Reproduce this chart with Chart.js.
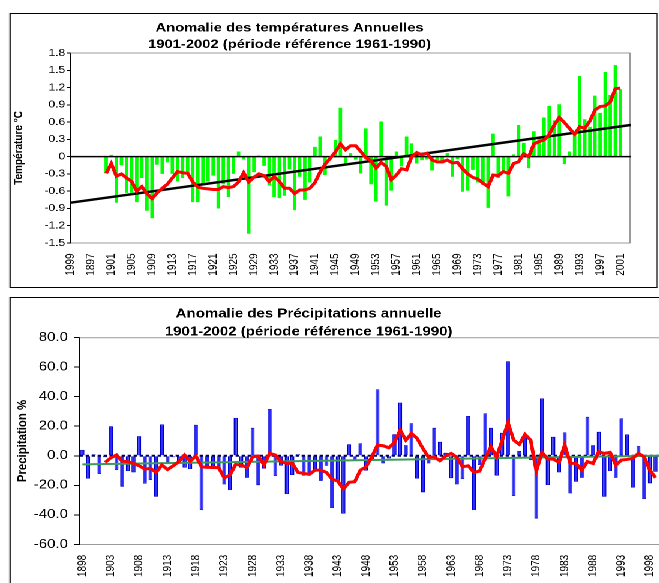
<!DOCTYPE html>
<html>
<head>
<meta charset="utf-8">
<script src="https://cdn.jsdelivr.net/npm/chart.js@4"></script>
<style>
html,body{margin:0;padding:0;background:#fff;overflow:hidden;width:659px;height:583px;}
#stage{position:absolute;left:0;top:0;width:600px;height:583px;transform:scaleX(1.2);transform-origin:0 0;}
.box{position:absolute;border:1.5px solid #000;box-sizing:border-box;}
canvas{position:absolute;}
</style>
</head>
<body>
<div id="stage">
  <div class="box" style="left:8.33px;top:13px;width:540px;height:275px"></div>
  <canvas id="c1" width="540" height="275" style="left:8.33px;top:13px"></canvas>
  <div class="box" style="left:7.5px;top:297px;width:600px;height:400px"></div>
  <canvas id="c2" width="575" height="300" style="left:7.5px;top:297px"></canvas>
</div>
<script>
// ---------------- Temperature chart data ----------------
const tempTitle = ["Anomalie des températures Annuelles", "1901-2002 (période référence 1961-1990)"];
const tempAxisTitle = "Température °C";
// categories 1893..2003 (first category label printed as "1999" in the original)
const tempFirstCategory = 1893;
const tempCategoryCount = 111;
const tempTickLabels = ["1999","1897","1901","1905","1909","1913","1917","1921","1925","1929","1933","1937","1941","1945","1949","1953","1957","1961","1965","1969","1973","1977","1981","1985","1989","1993","1997","2001"];
const tempYTicks = [-1.5,-1.2,-0.9,-0.6,-0.3,0,0.3,0.6,0.9,1.2,1.5,1.8];
const tempYTickLabels = ["-1.5","-1.2","-0.9","-0.6","-0.3","0","0.3","0.6","0.9","1.2","1.5","1.8"];
const tempDataStartIndex = 7;
// annual anomalies (bars), 102 values
const tempAnomaly = [
 -0.29, 0.03,-0.80,-0.15,-0.63,-0.63,-0.79,-0.37,-0.94,-1.07,
 -0.14,-0.30,-0.10,-0.30,-0.43,-0.37,-0.30,-0.79,-0.79,-0.50,
 -0.43,-0.33,-0.90,-0.48,-0.70,-0.30, 0.09,-0.05,-1.34,-0.27,
  0.02,-0.16,-0.50,-0.70,-0.72,-0.68,-0.22,-0.93,-0.35,-0.75,
 -0.45, 0.17, 0.35,-0.32,-0.05, 0.29, 0.85,-0.12, 0.06,-0.05,
 -0.29, 0.49,-0.48,-0.78, 0.61,-0.85,-0.59, 0.09,-0.17, 0.35,
  0.23,-0.12,-0.06,-0.05,-0.24,-0.06,-0.12, 0.06,-0.35,-0.04,
 -0.61,-0.59,-0.23,-0.45,-0.49,-0.89, 0.40,-0.37,-0.25,-0.69,
  0.04, 0.55, 0.24,-0.20, 0.44, 0.32, 0.68, 0.88, 0.63, 0.91,
 -0.13, 0.09, 0.40, 1.40, 0.65, 0.52, 1.06, 0.76, 1.47, 1.07,
  1.59, 1.17
];
// smoothed curve (red)
const tempSmooth = [
 -0.29,-0.12,-0.34,-0.30,-0.37,-0.43,-0.60,-0.52,-0.64,-0.73,
 -0.63,-0.55,-0.48,-0.37,-0.26,-0.28,-0.29,-0.44,-0.53,-0.55,
 -0.56,-0.57,-0.57,-0.52,-0.54,-0.52,-0.44,-0.28,-0.44,-0.36,
 -0.30,-0.33,-0.43,-0.35,-0.43,-0.55,-0.55,-0.64,-0.58,-0.58,
 -0.55,-0.45,-0.27,-0.13,-0.03, 0.08, 0.22, 0.12, 0.19, 0.19,
  0.09,-0.02,-0.07,-0.20,-0.10,-0.17,-0.40,-0.32,-0.21,-0.23,
  0.00, 0.07, 0.03, 0.06,-0.06,-0.09,-0.09,-0.06,-0.11,-0.10,
 -0.21,-0.30,-0.36,-0.39,-0.46,-0.52,-0.32,-0.33,-0.26,-0.29,
 -0.12,-0.09, 0.05, 0.00, 0.22, 0.26, 0.29, 0.38, 0.55, 0.68,
  0.59, 0.49, 0.39, 0.52, 0.49, 0.62, 0.81, 0.87, 0.88, 0.95,
  1.18, 1.19
];
// linear trend end points (first and last category)
const tempTrendEnds = [-0.80, 0.55];

// ---------------- Precipitation chart data ----------------
const precTitle = ["Anomalie des Précipitations annuelle", "1901-2002 (période référence 1961-1990)"];
const precAxisTitle = "Precipitation %";
const precFirstYear = 1898;
const precCategoryCount = 105; // 1898..2002
const precTickLabels = ["1898","1903","1908","1913","1918","1923","1928","1933","1938","1943","1948","1953","1958","1963","1968","1973","1978","1983","1988","1993","1998"];
const precYTicks = [-60,-40,-20,0,20,40,60,80];
const precYTickLabels = ["-60.0","-40.0","-20.0","0.0","20.0","40.0","60.0","80.0"];
// anomalies 1898..1999 (bars)
const precAnomaly = [
   4.0,-15.4,  1.0,-12.4, -1.0, 20.0, -9.7,-21.0,-10.4,-11.3,
  13.3,-18.8,-16.5,-27.8, 21.2, -5.5, -1.0, -4.0, -8.0, -9.0,
  21.0,-36.8, -8.5, -9.0, -8.5,-19.4,-23.3, 25.7, -8.0,-15.0,
  19.0,-20.0, -8.7, 31.8,-13.8, -6.6,-26.0,-13.0,  1.0,-13.5,
 -12.8, -9.7,-17.0, -6.8,-35.4,-17.5,-39.2,  7.8, -3.0,  8.4,
 -10.0, -3.0, 45.0, -5.2, -1.8, 14.6, 36.0,  7.2, 22.0,-15.4,
 -24.8, -5.2, 19.0,  9.5,  2.0,-15.2,-19.4,-15.8, 26.9,-36.8,
  -6.3, 28.7, 19.0,-13.5, 15.6, 64.0,-27.3,  3.2, 14.7, -3.0,
 -42.5, 38.8,-19.9, 12.9,-11.3, 15.8,-25.5,-17.6,-15.0, 26.4,
   7.2, 16.3,-27.8,-10.4,-15.0, 25.3, 14.5,-21.5,  6.5,-29.4,
 -18.7,-10.8
];
// smoothed curve (red) from 1902
const precSmoothStartIndex = 4;
const precSmooth = [
  -4.5, -1.4,  0.5, -3.6, -4.0, -5.2, -6.8, -9.0, -8.6,-11.3,
  -6.3, -9.3, -6.8, -4.0,  0.5, -3.6, -0.2, -7.5, -7.9, -7.9,
  -8.1,-14.9,-13.1, -5.9, -6.3, -7.9, -0.7, -0.2, -6.3,  1.6,
   0.5, -4.0, -5.2, -5.2,-11.3,-12.0,-12.6, -9.7, -9.7,-11.3,
 -15.8,-17.2,-22.6,-18.0,-17.6, -9.7, -7.5, -0.7,  7.2,  6.8,
   5.4,  9.0, 17.4, 10.6, 15.1, 11.7,  5.0, -1.1, -0.7, -3.4,
  -0.2,  1.6, -1.1, -7.5, -6.8,-11.3,-10.4, -1.8,  6.1, -0.7,
  10.6, 22.4, 10.6,  7.7, 14.5, 10.6,-10.4,  2.3, -2.3, -2.3,
  -4.5,  7.2, -5.2, -5.2, -9.7, -4.0, -5.2,  2.7,  1.6,  2.3,
  -6.3, -2.9, -2.5, -1.8,  1.6, -0.7, -9.7,-14.9
];
const precTrendEnds = [-5.8, 0.2];

// ---------------- helpers ----------------
const F = "'Liberation Sans', Arial, Helvetica, sans-serif";
Chart.defaults.font.family = F;
Chart.defaults.color = '#000';

function padSeries(start, values, total){
  const a = new Array(total).fill(null);
  values.forEach((v,k)=>{ if(start+k < total) a[start+k] = v; });
  return a;
}
function endsSeries(ends, total){
  const a = new Array(total).fill(null);
  a[0] = ends[0]; a[total-1] = ends[1];
  return a;
}
function framePlugin(color){
  return {id:'frame', beforeDatasetsDraw(chart){
    const {ctx, chartArea:a} = chart;
    ctx.save(); ctx.strokeStyle = color; ctx.lineWidth = 1;
    ctx.beginPath();
    ctx.moveTo(a.left, a.top); ctx.lineTo(a.right-0.5, a.top); ctx.lineTo(a.right-0.5, a.bottom);
    ctx.stroke(); ctx.restore();
  }};
}
function zeroLinePlugin(color, width, dash){
  return {id:'zero', afterDatasetDraw(chart, args){
    if (args.meta.type !== 'bar') return;
    const {ctx, chartArea:a} = chart;
    const y = chart.scales.y.getPixelForValue(0);
    ctx.save(); ctx.strokeStyle = color; ctx.lineWidth = width; ctx.setLineDash(dash);
    ctx.beginPath(); ctx.moveTo(a.left, y); ctx.lineTo(a.right, y); ctx.stroke(); ctx.restore();
  }};
}
function titlePlugin(lines, cx, baselines, size){
  return {id:'ttl', afterDraw(chart){
    const ctx = chart.ctx;
    ctx.save(); ctx.font = 'bold ' + size + 'px ' + F; ctx.fillStyle = '#000';
    ctx.textAlign = 'center'; ctx.textBaseline = 'alphabetic';
    lines.forEach((t,i)=>ctx.fillText(t, cx, baselines[i]));
    ctx.restore();
  }};
}

// ---------------- Temperature chart ----------------
const tempCategories = Array.from({length: tempCategoryCount}, (_, i) => String(tempFirstCategory + i));
new Chart(document.getElementById('c1'), {
  type: 'bar',
  data: {
    labels: tempCategories,
    datasets: [
      {type:'line', data: padSeries(tempDataStartIndex, tempSmooth, tempCategoryCount), borderColor:'#ff0000', borderWidth:3, pointRadius:0, tension:0, order:0},
      {type:'line', data: endsSeries(tempTrendEnds, tempCategoryCount), borderColor:'#000000', borderWidth:2.5, pointRadius:0, spanGaps:true, order:1},
      {type:'bar', data: padSeries(tempDataStartIndex, tempAnomaly, tempCategoryCount), backgroundColor:'#00ff00', borderWidth:0, barPercentage:0.75, categoryPercentage:0.9, order:2}
    ]
  },
  options: {
    responsive:false, devicePixelRatio:2, animation:false, events:[],
    layout:{padding:{top:40, right:2.5, left:0, bottom:0}},
    plugins:{legend:{display:false}, tooltip:{enabled:false}, title:{display:false}},
    scales:{
      x:{
        offset:false,
        grid:{display:false, drawTicks:false},
        border:{display:true, color:'#9a9a9a', width:1},
        ticks:{autoSkip:false, maxRotation:90, minRotation:90, padding:10.5, font:{size:10}, color:'#000',
          callback:(v,i)=> (i%4===0 ? tempTickLabels[i/4] : '')},
        afterFit:(s)=>{ s.height = 45; }
      },
      y:{
        min:-1.5, max:1.8,
        afterBuildTicks:(s)=>{ s.ticks = tempYTicks.map(v=>({value:v})); },
        ticks:{font:{size:10}, color:'#000', padding:1.7, callback:(v,i)=>tempYTickLabels[i]},
        grid:{drawOnChartArea:false, drawTicks:true, tickLength:2.8, color:'#000', tickColor:'#000'},
        border:{display:true, color:'#000', width:1.5},
        title:{display:true, text:tempAxisTitle, font:{size:10, weight:'bold'}, color:'#000', padding:{top:1.5, bottom:0}},
        afterFit:(s)=>{ s.width = 50.8; }
      }
    }
  },
  plugins:[framePlugin('#9a9a9a'), zeroLinePlugin('#000', 1.5, []), titlePlugin(tempTitle, 233.3, [18.5, 35], 12.3)]
});

// ---------------- Precipitation chart ----------------
const precCategories = Array.from({length: precCategoryCount}, (_, i) => String(precFirstYear + i));
new Chart(document.getElementById('c2'), {
  type: 'bar',
  data: {
    labels: precCategories,
    datasets: [
      {type:'line', data: padSeries(precSmoothStartIndex, precSmooth, precCategoryCount), borderColor:'#ff0000', borderWidth:3, pointRadius:0, tension:0, order:0},
      {type:'line', data: endsSeries(precTrendEnds, precCategoryCount), borderColor:'#3c9a5a', borderWidth:2, pointRadius:0, spanGaps:true, order:1},
      {type:'bar', data: padSeries(0, precAnomaly, precCategoryCount), backgroundColor:'#2a2aff', borderColor:'#0000cc', borderWidth:0.8, barPercentage:0.78, categoryPercentage:0.9, order:2}
    ]
  },
  options: {
    responsive:false, devicePixelRatio:2, animation:false, events:[],
    layout:{padding:{top:40.7, right:18.75, left:0, bottom:0}},
    plugins:{legend:{display:false}, tooltip:{enabled:false}, title:{display:false}},
    scales:{
      x:{
        offset:true,
        grid:{display:false, drawTicks:false},
        border:{display:true, color:'#9a9a9a', width:1},
        ticks:{autoSkip:false, maxRotation:90, minRotation:90, padding:10.5, font:{size:10}, color:'#000',
          callback:(v,i)=> (i%5===0 ? precTickLabels[i/5] : '')},
        afterFit:(s)=>{ s.height = 52.7; }
      },
      y:{
        min:-60, max:80,
        afterBuildTicks:(s)=>{ s.ticks = precYTicks.map(v=>({value:v})); },
        ticks:{font:{size:12.5}, color:'#000', padding:5, callback:(v,i)=>precYTickLabels[i]},
        grid:{drawOnChartArea:false, drawTicks:true, tickLength:4.7, color:'#000', tickColor:'#000'},
        border:{display:true, color:'#000', width:1.5},
        title:{display:true, text:precAxisTitle, font:{size:11.4, weight:'bold'}, color:'#000', padding:{top:4, bottom:0}},
        afterFit:(s)=>{ s.width = 58.33; }
      }
    }
  },
  plugins:[framePlugin('#9a9a9a'), zeroLinePlugin('#00005a', 2, [3,2]), titlePlugin(precTitle, 249.2, [20.3, 38.7], 12.5)]
});
</script>
</body>
</html>
